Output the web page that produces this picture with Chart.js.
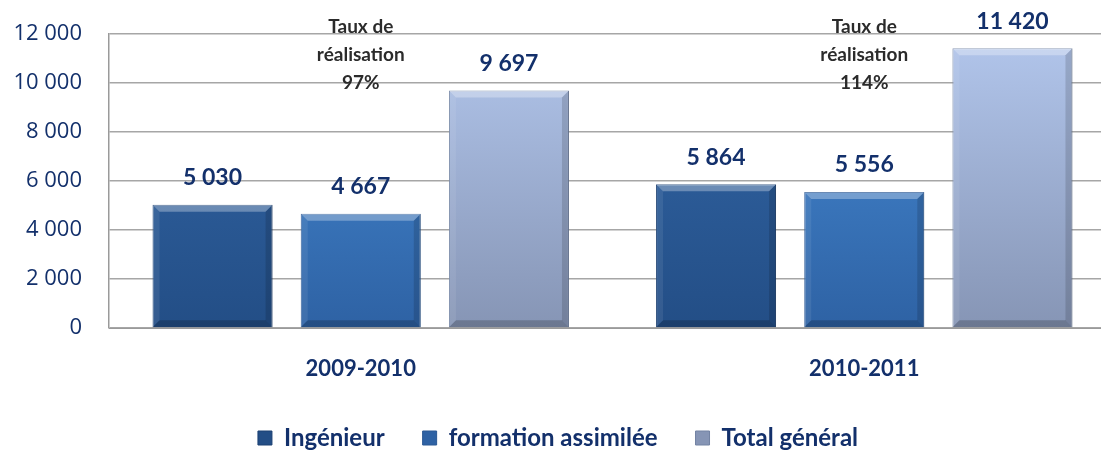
<!DOCTYPE html>
<html lang="fr">
<head>
<meta charset="UTF-8" />
<title>Ingénieurs et formation assimilée</title>
<script src="https://cdn.jsdelivr.net/npm/chart.js"></script>
<style>
  html, body { margin: 0; padding: 0; background: #fff; overflow: hidden; }
  #wrap { width: 1116px; height: 460px; position: relative; }
</style>
</head>
<body>
<div id="wrap"><canvas id="graf"></canvas></div>
<script>
const annees = ["2009-2010", "2010-2011"];
const ingenieur = [5030, 5864];
const formationAssimilee = [4667, 5556];
const totalGeneral = [9697, 11420];
const tauxRealisation = ["97%", "114%"];
const graduations = [0, 2000, 4000, 6000, 8000, 10000, 12000];

const bleuNuit = "#13306b";
const police = "Lato, 'Open Sans', sans-serif";

function sepMilliers(v) {
    return String(v).replace(/\B(?=(\d{3})+(?!\d))/g, " ");
}

// dégradé vertical pour chaque barre
function degrade(haut, bas) {
    return function (ctx) {
        const area = ctx.chart.chartArea;
        if (!area) return haut;
        const g = ctx.chart.ctx.createLinearGradient(0, area.top, 0, area.bottom);
        g.addColorStop(0, haut);
        g.addColorStop(1, bas);
        return g;
    };
}

// effet biseauté + valeurs au-dessus des barres + texte "Taux de réalisation"
const decorations = {
    id: "decorations",
    afterDatasetsDraw(chart) {
        const c = chart.ctx;
        chart.data.datasets.forEach((ds, i) => {
            chart.getDatasetMeta(i).data.forEach((bar, j) => {
                const l = bar.x - bar.width / 2, r = bar.x + bar.width / 2;
                const t = bar.y, b = bar.base, e = 7;
                c.save();
                c.fillStyle = "rgba(255,255,255,0.3)";
                c.beginPath(); c.moveTo(l, t); c.lineTo(r, t); c.lineTo(r - e, t + e); c.lineTo(l + e, t + e); c.closePath(); c.fill();
                c.fillStyle = "rgba(255,255,255,0.08)";
                c.beginPath(); c.moveTo(l, t); c.lineTo(l + e, t + e); c.lineTo(l + e, b - e); c.lineTo(l, b); c.closePath(); c.fill();
                c.fillStyle = "rgba(0,0,0,0.14)";
                c.beginPath(); c.moveTo(r, t); c.lineTo(r, b); c.lineTo(r - e, b - e); c.lineTo(r - e, t + e); c.closePath(); c.fill();
                c.fillStyle = "rgba(0,0,0,0.2)";
                c.beginPath(); c.moveTo(l, b); c.lineTo(r, b); c.lineTo(r - e, b - e); c.lineTo(l + e, b - e); c.closePath(); c.fill();
                c.restore();

                c.save();
                c.font = "bold 23px " + police;
                c.fillStyle = bleuNuit;
                c.textAlign = "center";
                c.textBaseline = "middle";
                c.fillText(sepMilliers(ds.data[j]), bar.x, bar.y - 27);
                c.restore();
            });
        });
        const xs = chart.scales.x;
        c.save();
        c.font = "bold 19px " + police;
        c.fillStyle = "#2b2b2b";
        c.textAlign = "center";
        c.textBaseline = "middle";
        tauxRealisation.forEach((tx, k) => {
            const x = xs.getPixelForValue(k);
            c.fillText("Taux de", x, 27);
            c.fillText("réalisation", x, 55);
            c.fillText(tx, x, 83);
        });
        c.restore();
    }
};

new Chart(document.getElementById("graf"), {
    type: "bar",
    data: {
        labels: annees,
        datasets: [
            { label: "Ingénieur", data: ingenieur, backgroundColor: degrade("#3468a8", "#234e86"), borderColor: "#1c4072", borderWidth: 1 },
            { label: "formation assimilée", data: formationAssimilee, backgroundColor: degrade("#478cd6", "#2e62a4"), borderColor: "#2a5894", borderWidth: 1 },
            { label: "Total général", data: totalGeneral, backgroundColor: degrade("#b2c6ec", "#8695b5"), borderColor: "#7283a3", borderWidth: 1 }
        ]
    },
    options: {
        responsive: true,
        maintainAspectRatio: false,
        animation: false,
        devicePixelRatio: 1,
        layout: { padding: { top: 34, left: 0, right: 0, bottom: 0 } },
        datasets: { bar: { categoryPercentage: 0.883, barPercentage: 0.81 } },
        plugins: {
            legend: {
                position: "bottom",
                labels: {
                    color: bleuNuit,
                    font: { family: police, size: 24, weight: "bold" },
                    boxWidth: 14, boxHeight: 14,
                    padding: 38
                }
            },
            tooltip: { enabled: false }
        },
        scales: {
            x: {
                grid: { display: false },
                border: { color: "#9a9a9a" },
                ticks: { color: bleuNuit, font: { family: police, size: 22, weight: "bold" }, padding: 20 },
                afterFit(axis) { axis.height = 60; }
            },
            y: {
                min: 0, max: 12000,
                afterBuildTicks(axis) { axis.ticks = graduations.map(v => ({ value: v })); },
                grid: { color: "#a6a6a6", lineWidth: 1.5, drawTicks: false },
                border: { color: "#9a9a9a", width: 1.5 },
                ticks: {
                    color: bleuNuit,
                    font: { family: "'Open Sans', sans-serif", size: 22, lineHeight: 0.6 },
                    padding: 27,
                    callback: v => sepMilliers(v)
                },
                afterFit(axis) { axis.width = 109; }
            }
        }
    },
    plugins: [decorations]
});
</script>
</body>
</html>
